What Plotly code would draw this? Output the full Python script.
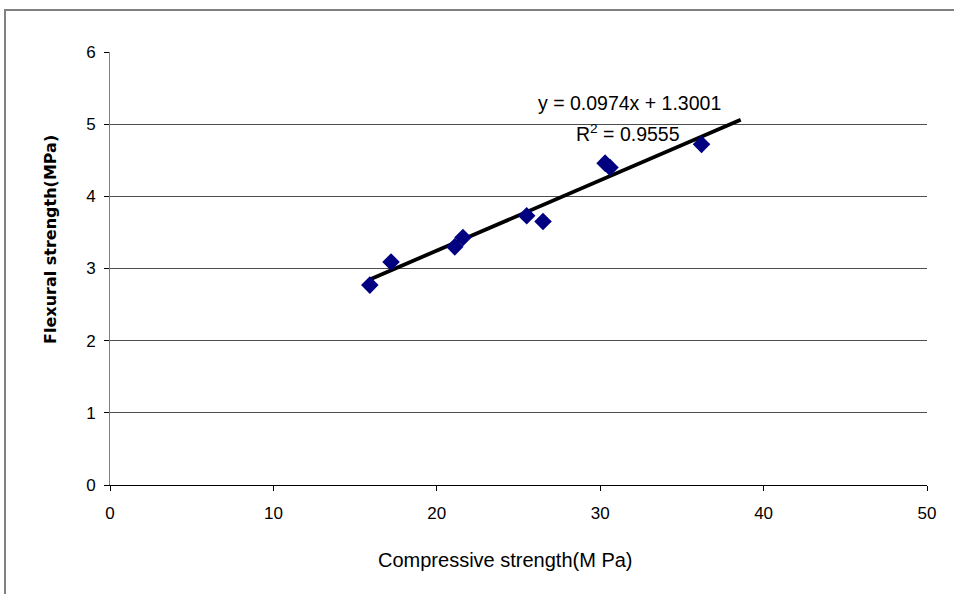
import numpy as np
import plotly.graph_objects as go

# Data
compressive = [15.9, 17.2, 21.1, 21.6, 25.5, 26.5, 30.3, 30.6, 36.2]
flexural = [2.77, 3.09, 3.30, 3.43, 3.73, 3.65, 4.46, 4.40, 4.72]

slope = 0.0974
intercept = 1.3001
r_squared = 0.9555
trend_end_x = 38.6

x_ticks = [0, 10, 20, 30, 40, 50]
y_ticks = [0, 1, 2, 3, 4, 5, 6]

trend_x = np.array([min(compressive), trend_end_x])
trend_y = slope * trend_x + intercept

FONT = "Liberation Sans, Arial, sans-serif"

fig = go.Figure()
fig.add_trace(go.Scatter(
    x=trend_x, y=trend_y, mode="lines",
    line=dict(color="black", width=3.8), showlegend=False, hoverinfo="skip"))
fig.add_trace(go.Scatter(
    x=compressive, y=flexural, mode="markers",
    marker=dict(symbol="diamond", size=13.5, color="#000080", line=dict(width=0)),
    showlegend=False))

fig.update_layout(
    width=954, height=594,
    margin=dict(l=110, r=27, t=52, b=109),
    paper_bgcolor="white", plot_bgcolor="white",
    font=dict(family=FONT, size=17, color="black"),
    xaxis=dict(range=[0, 50], tickvals=x_ticks, showgrid=False, zeroline=False,
               showline=True, linecolor="black", linewidth=1,
               ticks="outside", ticklen=5, tickcolor="black",
               tickfont=dict(size=17), ticklabelstandoff=8, fixedrange=True),
    yaxis=dict(range=[0, 6], tickvals=y_ticks, showgrid=True, gridcolor="#4d4d4d",
               gridwidth=1, zeroline=False,
               showline=True, linecolor="#808080", linewidth=1,
               ticks="outside", ticklen=5, tickcolor="black",
               tickfont=dict(size=17), ticklabelstandoff=5, fixedrange=True),
    shapes=[
        dict(type="rect", xref="paper", yref="paper",
             x0=-0.1285, x1=1.2, y0=-0.3, y1=1.097,
             line=dict(color="#808080", width=2), fillcolor="rgba(0,0,0,0)",
             layer="below"),
    ],
    annotations=[
        dict(x=31.8, y=5.29, xref="x", yref="y", showarrow=False,
             text=f"y = {slope:.4f}x + {intercept:.4f}", font=dict(size=19.5, family=FONT)),
        dict(x=31.7, y=4.88, xref="x", yref="y", showarrow=False,
             text=f"R<sup>2</sup> = {r_squared:.4f}", font=dict(size=19.5, family=FONT)),
        dict(x=0.4835, y=-0.173, xref="paper", yref="paper", showarrow=False,
             xanchor="center", yanchor="middle",
             text="Compressive strength(M Pa)", font=dict(size=20, family=FONT)),
        dict(x=-0.0722, y=0.566, xref="paper", yref="paper", showarrow=False,
             xanchor="center", yanchor="middle",
             textangle=-90, text="<b>Flexural strength(MPa)</b>",
             font=dict(size=16, family="DejaVu Sans, sans-serif")),
    ],
)

fig.write_html("out.html", config={"displayModeBar": False},
               post_script="document.body.style.margin='0';document.body.style.overflow='hidden';")
